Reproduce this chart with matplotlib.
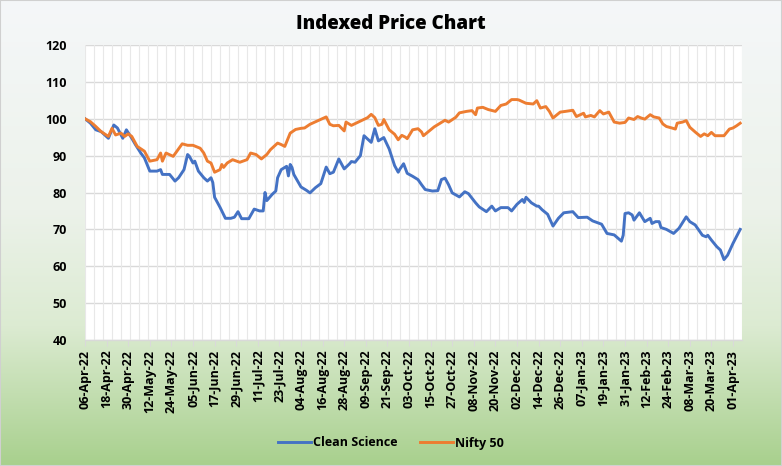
import numpy as np
import pandas as pd
import matplotlib
matplotlib.use("Agg")
import matplotlib.pyplot as plt
import matplotlib.dates as mdates
from matplotlib.patches import Rectangle

plt.rcParams['font.family'] = ['Open Sans', 'DejaVu Sans']

# ---------------- data ----------------
start_date = "2022-04-06"

# Clean Science (indexed), days since 06-Apr-22
cs_days = [0, 3, 6, 9, 13, 16, 18, 21, 23, 26, 28, 31, 33, 36, 40, 42, 43, 47, 50, 52,
           55, 57, 58, 60, 61, 63, 66, 68, 70, 71, 72, 75, 78, 81, 83, 85, 87, 91, 94, 97,
           99, 100, 101, 104, 106, 107, 109, 112, 113, 114, 115, 116, 118, 120, 123, 125,
           128, 131, 134, 136, 138, 141, 144, 147, 148, 150, 153, 155, 157, 159, 161, 163,
           166, 169, 172, 174, 175, 177, 179, 182, 185, 187, 189, 193, 196, 198, 200, 202,
           204, 208, 211, 213, 217, 219, 223, 226, 228, 231, 235, 237, 240, 243, 244, 245,
           248, 251, 252, 254, 257, 260, 263, 266, 271, 274, 279, 282, 287, 290, 294, 298,
           299, 300, 302, 304, 305, 308, 309, 311, 314, 315, 317, 319, 320, 323, 327, 330,
           334, 336, 339, 343, 345, 346, 348, 351, 353, 355, 357, 360, 364]
cs_values = [100, 98.8, 97.0, 96.5, 94.7, 98.3, 97.5, 94.7, 97.0, 94.7, 93.0, 90.7, 89.4, 85.8,
             85.8, 86.2, 84.9, 84.9, 83.1, 84.0, 86.2, 90.3, 89.8, 88.0, 88.5, 85.8, 84.0, 83.1,
             84.0, 82.7, 78.7, 76.0, 73.0, 73.0, 73.3, 74.8, 72.9, 72.9, 75.5, 75.0, 75.0, 80.0,
             77.8, 79.5, 80.4, 84.0, 86.2, 87.1, 84.5, 87.6, 86.8, 84.9, 83.2, 81.5, 80.6, 79.9,
             81.3, 82.4, 86.9, 85.1, 85.5, 89.1, 86.4, 87.8, 88.4, 88.2, 90.0, 95.4, 94.5, 93.6,
             97.3, 94.0, 94.9, 91.8, 87.3, 85.5, 86.4, 87.8, 85.2, 84.4, 83.5, 82.1, 80.8, 80.4,
             80.5, 83.5, 83.9, 82.1, 79.9, 78.8, 80.2, 79.7, 77.2, 76.1, 74.8, 76.3, 75.0, 75.9,
             75.9, 75.0, 76.8, 78.1, 77.3, 78.7, 77.2, 76.3, 76.3, 75.3, 74.1, 70.9, 73.0, 74.5,
             74.8, 73.2, 73.3, 72.3, 71.4, 68.9, 68.5, 66.8, 68.4, 74.3, 74.5, 73.9, 72.5, 74.5,
             73.7, 72.1, 73.0, 71.6, 72.1, 72.1, 70.5, 70.0, 68.9, 70.3, 73.4, 72.1, 71.2, 68.4,
             68.0, 68.4, 67.1, 65.3, 64.4, 61.8, 63.0, 66.2, 70.0]

# Nifty 50 (indexed), days since 06-Apr-22
nifty_days = [0, 3, 6, 9, 13, 15, 17, 20, 22, 24, 26, 29, 33, 36, 40, 42, 43, 45, 49, 54,
              57, 60, 64, 66, 68, 70, 72, 75, 76, 77, 79, 82, 86, 90, 92, 95, 98, 101, 103,
              107, 109, 111, 114, 117, 120, 122, 125, 129, 134, 136, 138, 141, 144, 145, 148,
              151, 154, 157, 159, 161, 163, 165, 166, 169, 172, 174, 176, 178, 179, 182, 185,
              187, 188, 191, 194, 196, 200, 202, 206, 208, 212, 215, 217, 218, 221, 224, 228,
              231, 234, 237, 240, 241, 245, 249, 251, 253, 256, 258, 260, 264, 267, 271, 273,
              277, 278, 281, 283, 286, 288, 291, 294, 297, 300, 302, 305, 307, 309, 311, 314,
              316, 319, 321, 323, 326, 328, 329, 332, 334, 336, 339, 342, 344, 346, 348, 350,
              353, 355, 358, 360, 362, 364]
nifty_values = [100, 99.2, 97.9, 96.5, 95.2, 97.4, 95.6, 96.1, 95.2, 95.9, 95.2, 92.5, 91.2,
                88.5, 88.9, 90.7, 88.5, 90.7, 89.8, 93.2, 92.8, 92.8, 92.0, 90.7, 88.5, 88.0,
                85.5, 86.2, 87.6, 86.8, 88.0, 88.9, 88.2, 88.9, 90.7, 90.3, 89.1, 90.3, 91.6,
                93.4, 93.0, 92.5, 96.1, 97.1, 97.4, 97.5, 98.5, 99.4, 100.5, 98.5, 98.1, 98.2,
                96.7, 99.1, 98.2, 98.9, 99.6, 100.3, 101.2, 100.3, 98.2, 98.5, 99.8, 97.0, 95.8,
                94.3, 95.5, 95.0, 94.6, 97.0, 97.3, 96.4, 95.4, 96.6, 97.8, 98.4, 99.6, 99.1,
                100.4, 101.6, 102.0, 102.2, 101.1, 102.9, 103.1, 102.5, 102.0, 103.6, 104.0,
                105.2, 105.2, 105.1, 104.2, 104.0, 104.9, 102.9, 103.3, 102.0, 100.2, 101.8,
                102.0, 102.3, 100.6, 101.5, 100.5, 100.9, 100.5, 102.2, 101.3, 101.8, 99.1,
                98.8, 99.0, 100.2, 99.8, 100.6, 100.2, 99.9, 101.1, 100.5, 100.2, 98.6, 97.9,
                97.5, 97.2, 98.8, 99.1, 99.5, 97.7, 96.4, 95.2, 95.9, 95.4, 96.3, 95.4, 95.4,
                95.4, 97.2, 97.5, 98.1, 98.8]

series_names = ["Clean Science", "Nifty 50"]
y_ticks = [40, 50, 60, 70, 80, 90, 100, 110, 120]

# ---------------- figure ----------------
W, H = 782, 466
fig = plt.figure(figsize=(W / 100, H / 100), dpi=100)
fig.patch.set_facecolor("white")

# gradient background
stops = np.array([0.0, 0.45, 0.7, 1.0])
cols = np.array([[245, 247, 249], [236, 242, 234], [220, 235, 210], [168, 208, 141]]) / 255.0
t = np.linspace(0, 1, 400)
grad = np.stack([np.interp(t, stops, cols[:, i]) for i in range(3)], axis=1)
grad = np.repeat(grad[:, None, :], 2, axis=1)
bg = fig.add_axes([0, 0, 1, 1], zorder=-10)
bg.imshow(grad, aspect="auto", extent=[0, 1, 0, 1], origin="upper")
bg.axis("off")

left, right, top, bottom = 85, 742, 45, 340
ax = fig.add_axes([left / W, 1 - bottom / H, (right - left) / W, (bottom - top) / H], zorder=1)
ax.set_facecolor("white")

t0 = pd.Timestamp(start_date)
cs_dates = t0 + pd.to_timedelta(cs_days, unit="D")
nifty_dates = t0 + pd.to_timedelta(nifty_days, unit="D")

ax.plot(cs_dates, cs_values, color="#4472C4", lw=2.1, label=series_names[0],
        solid_joinstyle="round", zorder=3)
ax.plot(nifty_dates, nifty_values, color="#ED7D31", lw=2.1, label=series_names[1],
        solid_joinstyle="round", zorder=3)

ax.set_xlim(t0, t0 + pd.Timedelta(days=365))
ax.set_ylim(40, 120)
ax.set_yticks(y_ticks)

major = pd.date_range(t0, t0 + pd.Timedelta(days=364), freq="12D")
minor = pd.date_range(t0, t0 + pd.Timedelta(days=365), freq="5D")
ax.set_xticks(major)
ax.xaxis.set_major_formatter(mdates.DateFormatter("%d-%b-%y"))
for d in minor:
    ax.axvline(d, color="#e8e8e8", lw=0.8, zorder=1)
ax.grid(axis="y", color="#d9d9d9", lw=1.0, zorder=1)
ax.set_axisbelow(True)

for s in ["top", "right", "left"]:
    ax.spines[s].set_visible(False)
ax.spines["bottom"].set_color("#d9d9d9")
ax.spines["bottom"].set_linewidth(1.0)
ax.tick_params(axis="y", length=0, pad=13, labelsize=9, labelcolor="black")
ax.tick_params(axis="x", length=4, width=0.8, color="#d9d9d9", pad=3, labelsize=9,
               labelcolor="black", labelrotation=90)
for lab in ax.get_xticklabels() + ax.get_yticklabels():
    lab.set_fontweight("bold")

fig.text(0.5, 1 - 24 / H, "Indexed Price Chart", ha="center", va="center",
         fontsize=13.5, fontweight="heavy", color="black")

leg = fig.legend(loc="center", bbox_to_anchor=(0.5, 1 - 443 / H), ncol=2, frameon=False,
                 prop={"weight": "bold", "size": 9}, handlelength=2.6, handletextpad=0.2,
                 columnspacing=1.8)

fig.add_artist(Rectangle((0, 0), 1, 1, transform=fig.transFigure, fill=False,
                         edgecolor="#d0d0d0", lw=1.5, zorder=20))

fig.savefig("out.png", dpi=100)
